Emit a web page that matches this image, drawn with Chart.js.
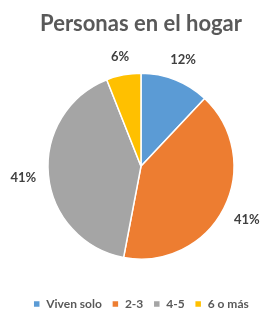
<!DOCTYPE html>
<html>
<head>
<meta charset="utf-8">
<script src="https://cdn.jsdelivr.net/npm/chart.js@4"></script>
<style>
  html, body { margin: 0; padding: 0; background: #fff; }
  #wrap { width: 260px; height: 310px; }
</style>
</head>
<body>
<div id="wrap"><canvas id="pieChart" width="260" height="310"></canvas></div>
<script>
// ===== Personas en el hogar =====
const categories = ["Viven solo", "2-3", "4-5", "6 o más"];
const shares = [12, 41, 41, 6];
const sliceColors = ["#5B9BD5", "#ED7D31", "#A5A5A5", "#FFC000"];

// percent labels outside each slice
const outsideLabels = {
  id: "outsideLabels",
  afterDatasetsDraw(chart) {
    const ctx = chart.ctx;
    const meta = chart.getDatasetMeta(0);
    ctx.save();
    ctx.font = "bold 13px Lato";
    ctx.fillStyle = "#404040";
    ctx.textAlign = "center";
    ctx.textBaseline = "middle";
    meta.data.forEach(function (arc, i) {
      const p = arc.getProps(["x", "y", "startAngle", "endAngle", "outerRadius"], true);
      const mid = (p.startAngle + p.endAngle) / 2;
      const cos = Math.cos(mid), sin = Math.sin(mid);
      const text = shares[i] + "%";
      const w = ctx.measureText(text).width;
      const h = 10;
      const d = p.outerRadius + 12 + Math.abs(cos) * w / 2 + Math.abs(sin) * h / 2;
      ctx.fillText(text, p.x + cos * d, p.y + sin * d);
    });
    ctx.restore();
  }
};

new Chart(document.getElementById("pieChart"), {
  type: "pie",
  data: {
    labels: categories,
    datasets: [{
      data: shares,
      backgroundColor: sliceColors,
      borderColor: "#ffffff",
      borderWidth: 1.5,
      radius: 93
    }]
  },
  options: {
    responsive: false,
    animation: false,
    layout: { padding: { left: 22, right: 0, top: 0, bottom: -10 } },
    plugins: {
      title: {
        display: true,
        text: "Personas en el hogar",
        color: "#595959",
        font: { family: "Lato", size: 22, weight: "bold" },
        padding: { top: 11, bottom: 7 }
      },
      legend: {
        position: "bottom",
        labels: {
          color: "#595959",
          font: { family: "Lato", size: 12, weight: "bold" },
          boxWidth: 7,
          boxHeight: 7,
          padding: 10
        }
      },
      tooltip: { enabled: false }
    }
  },
  plugins: [outsideLabels]
});
</script>
</body>
</html>
